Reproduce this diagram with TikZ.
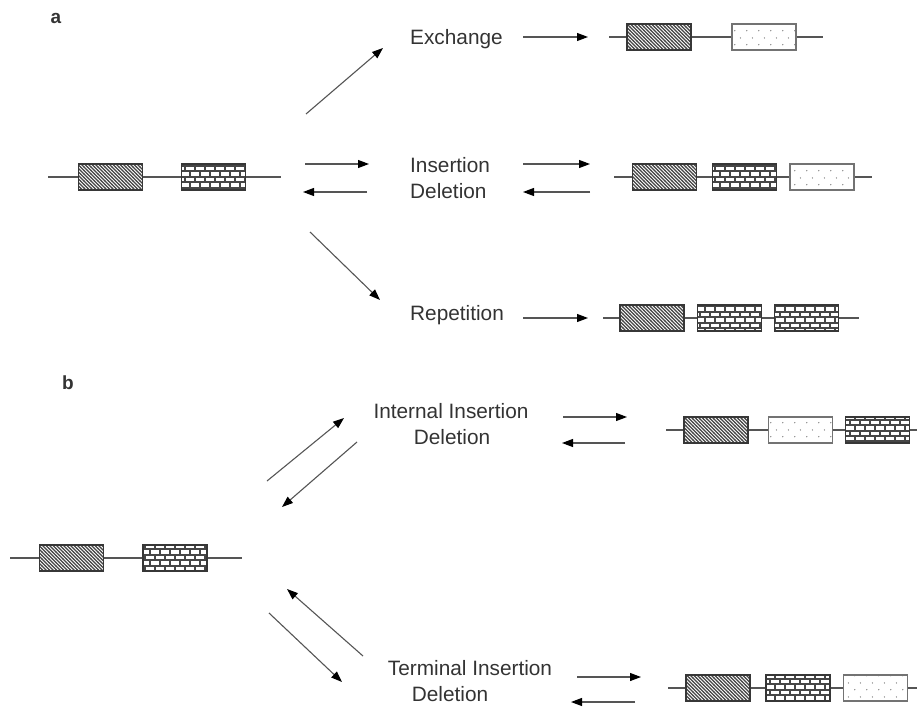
\documentclass[tikz,border=0pt]{standalone}
\usepackage{fontspec}
\setmainfont{Liberation Sans}
\usepackage{tikz}
\usetikzlibrary{arrows.meta,patterns}

\definecolor{txtgray}{RGB}{51,51,51}
\definecolor{linegray}{RGB}{85,85,85}
\definecolor{boxgray}{RGB}{55,55,55}
\definecolor{hatchgray}{RGB}{70,70,70}
\definecolor{dotgray}{RGB}{115,115,115}

% fill patterns of the three gene blocks
\pgfdeclarepatternformonly{hatchdense}{\pgfqpoint{-1pt}{-1pt}}{\pgfqpoint{4.5pt}{4.5pt}}{\pgfqpoint{3.5pt}{3.5pt}}{%
  \pgfsetlinewidth{1.1pt}
  \pgfpathmoveto{\pgfqpoint{-0.3pt}{3.8pt}}
  \pgfpathlineto{\pgfqpoint{3.8pt}{-0.3pt}}
  \pgfusepath{stroke}}
\pgfdeclarepatternformonly{brickwall}{\pgfqpoint{-2pt}{-2pt}}{\pgfqpoint{12pt}{13pt}}{\pgfqpoint{10pt}{10.8pt}}{%
  \pgfsetlinewidth{2pt}
  \pgfpathmoveto{\pgfqpoint{-0.5pt}{0pt}}\pgfpathlineto{\pgfqpoint{10.5pt}{0pt}}
  \pgfpathmoveto{\pgfqpoint{-0.5pt}{5.4pt}}\pgfpathlineto{\pgfqpoint{10.5pt}{5.4pt}}
  \pgfusepath{stroke}
  \pgfsetlinewidth{2.4pt}
  \pgfpathmoveto{\pgfqpoint{0pt}{0pt}}\pgfpathlineto{\pgfqpoint{0pt}{5.4pt}}
  \pgfpathmoveto{\pgfqpoint{5pt}{5.4pt}}\pgfpathlineto{\pgfqpoint{5pt}{10.8pt}}
  \pgfusepath{stroke}}
\pgfdeclarepatternformonly{sparsedots}{\pgfqpoint{0pt}{0pt}}{\pgfqpoint{12pt}{14pt}}{\pgfqpoint{12pt}{14pt}}{%
  \pgfpathcircle{\pgfqpoint{3pt}{3.5pt}}{0.7pt}
  \pgfpathcircle{\pgfqpoint{9pt}{10.5pt}}{0.7pt}
  \pgfusepath{fill}}

\begin{document}
\begin{tikzpicture}[x=1pt,y=-1pt,
    txt/.style={text=txtgray, font=\fontsize{20.8}{25}\selectfont, inner sep=0pt, text height=14.9pt, text depth=0pt},
    panel/.style={text=txtgray, font=\bfseries\fontsize{19}{22}\selectfont, inner sep=0pt},
    gene/.style={draw=boxgray, line width=1.4pt, minimum width=64pt, minimum height=26pt, inner sep=0pt},
    hatchbox/.style={gene, pattern=hatchdense, pattern color=hatchgray},
    brickbox/.style={gene, pattern=brickwall, pattern color=hatchgray},
    dotbox/.style={gene, draw=dotgray, pattern=sparsedots, pattern color=dotgray},
    dna/.style={draw=linegray, line width=1.3pt},
    conv/.style={draw=linegray, line width=1.1pt, -{Triangle[length=11pt,width=8pt,color=black]}}]
    \useasboundingbox (0,0) rectangle (917,706);

    %% panel a
    \node[panel] (pa) at (56,18) {a};

    % starting gene pair
    \coordinate (a0l) at (48,177);
    \coordinate (a0r) at (281,177);
    \node[hatchbox] (a0h) at (110.5,177) {};
    \node[brickbox] (a0b) at (213.5,177) {};
    \draw[dna] (a0l) -- (a0h.west) (a0h.east) -- (a0b.west) (a0b.east) -- (a0r);

    % three routes
    \coordinate (upS) at (306,114);   \coordinate (upE) at (383,48);
    \coordinate (insS) at (305,164);  \coordinate (insE) at (369,164);
    \coordinate (delS) at (367,192);  \coordinate (delE) at (303,192);
    \coordinate (dnS) at (310,232);   \coordinate (dnE) at (380,300);
    \draw[conv] (upS) -- (upE);
    \draw[conv] (insS) -- (insE);
    \draw[conv] (delS) -- (delE);
    \draw[conv] (dnS) -- (dnE);

    \node[txt, anchor=west] (exch) at (410,37) {Exchange};
    \node[txt, anchor=west] (ins) at (410,165) {Insertion};
    \node[txt, anchor=west] (del) at (410,191) {Deletion};
    \node[txt, anchor=west] (rep) at (410,313) {Repetition};

    \coordinate (exS) at (523,37);    \coordinate (exE) at (588,37);
    \coordinate (ins2S) at (523,164); \coordinate (ins2E) at (590,164);
    \coordinate (del2S) at (590,192); \coordinate (del2E) at (523,192);
    \coordinate (repS) at (523,318);  \coordinate (repE) at (588,318);
    \draw[conv] (exS) -- (exE);
    \draw[conv] (ins2S) -- (ins2E);
    \draw[conv] (del2S) -- (del2E);
    \draw[conv] (repS) -- (repE);

    % exchange product
    \coordinate (a1l) at (609,37);
    \coordinate (a1r) at (823,37);
    \node[hatchbox] (a1h) at (659,37) {};
    \node[dotbox] (a1d) at (764,37) {};
    \draw[dna] (a1l) -- (a1h.west) (a1h.east) -- (a1d.west) (a1d.east) -- (a1r);

    % insertion product
    \coordinate (a2l) at (614,177);
    \coordinate (a2r) at (872,177);
    \node[hatchbox] (a2h) at (664.5,177) {};
    \node[brickbox] (a2b) at (744.5,177) {};
    \node[dotbox] (a2d) at (822,177) {};
    \draw[dna] (a2l) -- (a2h.west) (a2h.east) -- (a2b.west) (a2b.east) -- (a2d.west) (a2d.east) -- (a2r);

    % repetition product
    \coordinate (a3l) at (603,318);
    \coordinate (a3r) at (859,318);
    \node[hatchbox] (a3h) at (652,318) {};
    \node[brickbox] (a3b) at (729.5,318) {};
    \node[brickbox] (a3c) at (806.5,318) {};
    \draw[dna] (a3l) -- (a3h.west) (a3h.east) -- (a3b.west) (a3b.east) -- (a3c.west) (a3c.east) -- (a3r);

    %% panel b
    \node[panel] (pb) at (68,383) {b};

    \coordinate (b0l) at (10,558);
    \coordinate (b0r) at (242,558);
    \node[hatchbox] (b0h) at (71.5,558) {};
    \node[brickbox] (b0b) at (175,558) {};
    \draw[dna] (b0l) -- (b0h.west) (b0h.east) -- (b0b.west) (b0b.east) -- (b0r);

    \coordinate (iuS) at (267,481);   \coordinate (iuE) at (344,418);
    \coordinate (idS) at (357,442);   \coordinate (idE) at (282,507);
    \coordinate (tuS) at (363,656);   \coordinate (tuE) at (287,589);
    \coordinate (tdS) at (269,613);   \coordinate (tdE) at (342,682);
    \draw[conv] (iuS) -- (iuE);
    \draw[conv] (idS) -- (idE);
    \draw[conv] (tuS) -- (tuE);
    \draw[conv] (tdS) -- (tdE);

    \node[txt] (intins) at (451,411) {Internal Insertion};
    \node[txt] (intdel) at (452,437) {Deletion};
    \node[txt] (terins) at (470,668) {Terminal Insertion};
    \node[txt] (terdel) at (450,694) {Deletion};

    \coordinate (ii2S) at (563,417);  \coordinate (ii2E) at (627,417);
    \coordinate (id2S) at (625,443);  \coordinate (id2E) at (562,443);
    \coordinate (ti2S) at (577,677);  \coordinate (ti2E) at (641,677);
    \coordinate (td2S) at (635,702);  \coordinate (td2E) at (571,702);
    \draw[conv] (ii2S) -- (ii2E);
    \draw[conv] (id2S) -- (id2E);
    \draw[conv] (ti2S) -- (ti2E);
    \draw[conv] (td2S) -- (td2E);

    % internal insertion product
    \coordinate (b1l) at (666,430);
    \coordinate (b1r) at (917,430);
    \node[hatchbox] (b1h) at (716,430) {};
    \node[dotbox] (b1d) at (800.5,430) {};
    \node[brickbox] (b1b) at (877.5,430) {};
    \draw[dna] (b1l) -- (b1h.west) (b1h.east) -- (b1d.west) (b1d.east) -- (b1b.west) (b1b.east) -- (b1r);

    % terminal insertion product
    \coordinate (b2l) at (668,688);
    \coordinate (b2r) at (917,688);
    \node[hatchbox] (b2h) at (718,688) {};
    \node[brickbox] (b2b) at (798,688) {};
    \node[dotbox] (b2d) at (875.5,688) {};
    \draw[dna] (b2l) -- (b2h.west) (b2h.east) -- (b2b.west) (b2b.east) -- (b2d.west) (b2d.east) -- (b2r);
\end{tikzpicture}
\end{document}
